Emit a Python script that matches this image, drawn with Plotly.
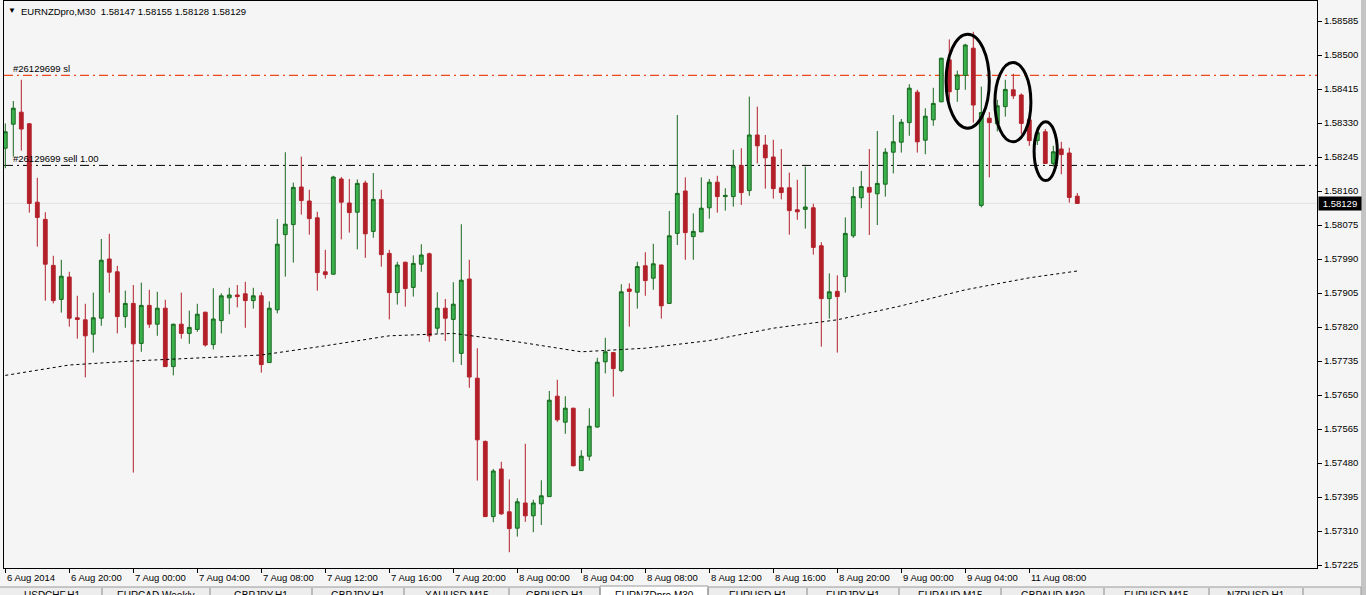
import plotly.graph_objects as go

# ---------------- data ----------------
symbol_title = "EURNZDpro,M30  1.58147 1.58155 1.58128 1.58129"

bar_index = list(range(135))

open_ = [1.58267, 1.58327, 1.58357, 1.58328, 1.58132, 1.58089, 1.57974, 1.57889, 1.57945, 1.57843,
         1.57838, 1.57802, 1.57842, 1.57990, 1.57958, 1.57846, 1.57879, 1.57779, 1.57874, 1.57827,
         1.57867, 1.57721, 1.57827, 1.57804, 1.57814, 1.57857, 1.57776, 1.57836, 1.57893, 1.57900,
         1.57903, 1.57886, 1.57898, 1.57731, 1.57863, 1.58051, 1.58076, 1.58170, 1.58135, 1.58093,
         1.57958, 1.57952, 1.58190, 1.58130, 1.58107, 1.58180, 1.58059, 1.58139, 1.58004, 1.57906,
         1.57982, 1.57919, 1.57977, 1.58003, 1.57817, 1.57867, 1.57839, 1.57754, 1.57940, 1.57692,
         1.57534, 1.57346, 1.57465, 1.57358, 1.57317, 1.57380, 1.57348, 1.57378, 1.57396, 1.57647,
         1.57582, 1.57617, 1.57461, 1.57497, 1.57570, 1.57733, 1.57756, 1.57711, 1.57915, 1.57907,
         1.57973, 1.57942, 1.57975, 1.57879, 1.58054, 1.58160, 1.58046, 1.58058, 1.58118, 1.58182,
         1.58146, 1.58146, 1.58224, 1.58161, 1.58300, 1.58275, 1.58245, 1.58168, 1.58168, 1.58113,
         1.58114, 1.58118, 1.58023, 1.57891, 1.57909, 1.57946, 1.58048, 1.58143, 1.58169, 1.58153,
         1.58177, 1.58257, 1.58282, 1.58331, 1.58407, 1.58287, 1.58338, 1.58383, 1.58488, 1.58414,
         1.58449, 1.58517, 1.58124, 1.58342, 1.58328, 1.58371, 1.58413, 1.58400, 1.58338, 1.58286,
         1.58308, 1.58229, 1.58265, 1.58255, 1.58147]

high = [1.58329, 1.58385, 1.58438, 1.58330, 1.58193, 1.58107, 1.57998, 1.57988, 1.57958, 1.57898,
        1.57878, 1.57906, 1.58040, 1.58053, 1.57973, 1.57911, 1.57925, 1.57931, 1.57913, 1.57908,
        1.57888, 1.57828, 1.57906, 1.57861, 1.57878, 1.57858, 1.57917, 1.57904, 1.57918, 1.57925,
        1.57933, 1.57918, 1.57907, 1.57884, 1.58090, 1.58257, 1.58181, 1.58246, 1.58163, 1.58108,
        1.58013, 1.58198, 1.58195, 1.58190, 1.58189, 1.58186, 1.58205, 1.58163, 1.58013, 1.57983,
        1.57983, 1.57999, 1.58027, 1.58006, 1.57907, 1.57890, 1.57932, 1.58077, 1.57988, 1.57767,
        1.57536, 1.57465, 1.57483, 1.57439, 1.57392, 1.57528, 1.57388, 1.57437, 1.57660, 1.57688,
        1.57647, 1.57618, 1.57512, 1.57617, 1.57743, 1.57793, 1.57758, 1.57927, 1.57929, 1.57983,
        1.58007, 1.58028, 1.57976, 1.58110, 1.58350, 1.58194, 1.58104, 1.58194, 1.58190, 1.58198,
        1.58167, 1.58263, 1.58267, 1.58396, 1.58371, 1.58300, 1.58288, 1.58265, 1.58206, 1.58188,
        1.58221, 1.58128, 1.58032, 1.57954, 1.57949, 1.58094, 1.58170, 1.58210, 1.58265, 1.58310,
        1.58267, 1.58350, 1.58340, 1.58427, 1.58413, 1.58367, 1.58418, 1.58493, 1.58539, 1.58461,
        1.58528, 1.58558, 1.58421, 1.58357, 1.58388, 1.58438, 1.58453, 1.58404, 1.58339, 1.58319,
        1.58315, 1.58273, 1.58283, 1.58268, 1.58155]

low = [1.58217, 1.58246, 1.58261, 1.58106, 1.58021, 1.57886, 1.57879, 1.57856, 1.57821, 1.57791,
       1.57694, 1.57756, 1.57823, 1.57906, 1.57804, 1.57818, 1.57456, 1.57758, 1.57818, 1.57798,
       1.57720, 1.57699, 1.57791, 1.57778, 1.57808, 1.57771, 1.57764, 1.57804, 1.57852, 1.57869,
       1.57818, 1.57866, 1.57706, 1.57730, 1.57854, 1.57946, 1.57981, 1.58101, 1.58051, 1.57911,
       1.57941, 1.57951, 1.58039, 1.58056, 1.58014, 1.57993, 1.58043, 1.57971, 1.57839, 1.57876,
       1.57871, 1.57896, 1.57958, 1.57783, 1.57804, 1.57785, 1.57732, 1.57725, 1.57668, 1.57436,
       1.57345, 1.57332, 1.57350, 1.57257, 1.57296, 1.57333, 1.57307, 1.57325, 1.57395, 1.57583,
       1.57553, 1.57472, 1.57460, 1.57486, 1.57568, 1.57704, 1.57646, 1.57707, 1.57821, 1.57866,
       1.57898, 1.57913, 1.57841, 1.57878, 1.58025, 1.57988, 1.57988, 1.58057, 1.58091, 1.58106,
       1.58111, 1.58121, 1.58125, 1.58148, 1.58229, 1.58166, 1.58141, 1.58139, 1.58051, 1.58088,
       1.58066, 1.58001, 1.57771, 1.57841, 1.57756, 1.57906, 1.58043, 1.58117, 1.58050, 1.58075,
       1.58146, 1.58204, 1.58256, 1.58298, 1.58256, 1.58252, 1.58323, 1.58382, 1.58386, 1.58383,
       1.58413, 1.58331, 1.58119, 1.58194, 1.58309, 1.58346, 1.58390, 1.58303, 1.58273, 1.58275,
       1.58228, 1.58221, 1.58202, 1.58131, 1.58128]

close = [1.58308, 1.58367, 1.58315, 1.58129, 1.58094, 1.57977, 1.57886, 1.57947, 1.57842, 1.57839,
         1.57798, 1.57843, 1.57987, 1.57957, 1.57846, 1.57879, 1.57778, 1.57874, 1.57827, 1.57867,
         1.57721, 1.57827, 1.57804, 1.57819, 1.57852, 1.57775, 1.57840, 1.57898, 1.57900, 1.57896,
         1.57886, 1.57898, 1.57726, 1.57867, 1.58027, 1.58077, 1.58169, 1.58136, 1.58091, 1.57956,
         1.57951, 1.58195, 1.58132, 1.58106, 1.58179, 1.58053, 1.58139, 1.58001, 1.57906, 1.57975,
         1.57916, 1.57979, 1.58000, 1.57798, 1.57867, 1.57842, 1.57877, 1.57937, 1.57695, 1.57538,
         1.57346, 1.57460, 1.57353, 1.57316, 1.57383, 1.57348, 1.57380, 1.57398, 1.57637, 1.57588,
         1.57617, 1.57473, 1.57497, 1.57572, 1.57732, 1.57758, 1.57716, 1.57908, 1.57909, 1.57971,
         1.57936, 1.57978, 1.57873, 1.58048, 1.58154, 1.58056, 1.58059, 1.58117, 1.58182, 1.58146,
         1.58149, 1.58222, 1.58156, 1.58300, 1.58273, 1.58243, 1.58166, 1.58156, 1.58111, 1.58108,
         1.58120, 1.58019, 1.57891, 1.57908, 1.57896, 1.58054, 1.58146, 1.58171, 1.58157, 1.58179,
         1.58257, 1.58283, 1.58332, 1.58417, 1.58283, 1.58347, 1.58379, 1.58492, 1.58408, 1.58450,
         1.58525, 1.58375, 1.58356, 1.58331, 1.58373, 1.58414, 1.58398, 1.58329, 1.58286, 1.58306,
         1.58229, 1.58258, 1.58251, 1.58144, 1.58129]

# moving average (dotted), read at every 8th bar
ma_index = [0, 8, 16, 24, 32, 40, 48, 56, 64, 72, 80, 88, 96, 104, 112, 120, 128, 134]
ma_values = [1.57699, 1.57725, 1.57735, 1.57743, 1.57750, 1.57773, 1.57798, 1.57804, 1.57783,
             1.57758, 1.57767, 1.57786, 1.57817, 1.57838, 1.57873, 1.57913, 1.57943, 1.57960]

# order levels
sl_level = 1.58449
sl_label = "#26129699 sl"
entry_level = 1.58224
entry_label = "#26129699 sell 1.00"
bid_price = 1.58129

# axes
price_ticks = [1.58585, 1.58500, 1.58415, 1.58330, 1.58245, 1.58160, 1.58075, 1.57990, 1.57905,
               1.57820, 1.57735, 1.57650, 1.57565, 1.57480, 1.57395, 1.57310, 1.57225]
time_tick_index = [0, 8, 16, 24, 32, 40, 48, 56, 64, 72, 80, 88, 96, 104, 112, 120, 128]
time_tick_labels = ["6 Aug 2014", "6 Aug 20:00", "7 Aug 00:00", "7 Aug 04:00", "7 Aug 08:00",
                    "7 Aug 12:00", "7 Aug 16:00", "7 Aug 20:00", "8 Aug 00:00", "8 Aug 04:00",
                    "8 Aug 08:00", "8 Aug 12:00", "8 Aug 16:00", "8 Aug 20:00", "9 Aug 00:00",
                    "9 Aug 04:00", "11 Aug 08:00"]

tab_names = ["USDCHF,H1", "EURCAD,Weekly", "GBPJPY,H1", "GBPJPY,H1", "XAUUSD,M15", "GBPUSD,H1",
             "EURNZDpro,M30", "EURUSD,H1", "EURJPY,H1", "EURAUD,M15", "GBPAUD,M30", "EURUSD,M15",
             "NZDUSD,H1"]

# ---------------- layout helpers ----------------
W, H = 1366, 595
PL, PR, PT, PB = 4, 1317, 1, 568          # plot area in pixels
def px_x(px):
    return (px - PL) / (PR - PL)
def px_y(py):
    return (PB - py) / (PB - PT)

FONT = "Liberation Sans, Arial, sans-serif"
BG = "#F5F5F5"

fig = go.Figure()

fig.add_trace(go.Candlestick(
    x=bar_index, open=open_, high=high, low=low, close=close,
    increasing=dict(line=dict(color="#17691F", width=1), fillcolor="#3CB04E"),
    decreasing=dict(line=dict(color="#B3202A", width=1), fillcolor="#B3202A"),
    whiskerwidth=0, hoverinfo="skip", showlegend=False,
))

fig.add_trace(go.Scatter(
    x=ma_index, y=ma_values, mode="lines",
    line=dict(color="black", width=1, dash="dot"),
    hoverinfo="skip", showlegend=False,
))

shapes = []
# bid line
shapes.append(dict(type="line", xref="paper", yref="y", x0=0, x1=1, y0=bid_price, y1=bid_price,
                   line=dict(color="#E2E2E2", width=1), layer="below"))
# stop-loss line
shapes.append(dict(type="line", xref="paper", yref="y", x0=0, x1=1, y0=sl_level, y1=sl_level,
                   line=dict(color="#EA4A1C", width=1.3, dash="9px,4px,2px,4px"), layer="below"))
# entry line
shapes.append(dict(type="line", xref="paper", yref="y", x0=0, x1=1, y0=entry_level, y1=entry_level,
                   line=dict(color="black", width=1, dash="9px,4px,2px,4px"), layer="below"))

# hand-drawn ellipses
for (x0, x1, y0, y1) in [(117.6, 123.0, 1.58317, 1.58552),
                         (123.7, 128.2, 1.58283, 1.58481),
                         (128.6, 131.5, 1.58186, 1.58333)]:
    shapes.append(dict(type="circle", xref="x", yref="y", x0=x0, x1=x1, y0=y0, y1=y1,
                       line=dict(color="black", width=3), layer="above"))

# right grey strip
shapes.append(dict(type="rect", xref="paper", yref="paper", x0=px_x(1361), x1=px_x(1367),
                   y0=px_y(596), y1=px_y(-1), fillcolor="#C4C4C4", line=dict(width=0), layer="above"))
# tab bar
shapes.append(dict(type="rect", xref="paper", yref="paper", x0=px_x(-1), x1=px_x(1361),
                   y0=px_y(596), y1=px_y(587), fillcolor="#EDEDED",
                   line=dict(color="#9A9A9A", width=1), layer="above"))
tab_x = [4, 102, 210, 312, 404, 509, 600, 708, 807, 899, 1001, 1104, 1209, 1303]
# active tab
shapes.append(dict(type="rect", xref="paper", yref="paper", x0=px_x(tab_x[6]), x1=px_x(tab_x[7]),
                   y0=px_y(596), y1=px_y(586), fillcolor="white",
                   line=dict(color="#9A9A9A", width=1), layer="above"))
for sx in tab_x[1:]:
    shapes.append(dict(type="line", xref="paper", yref="paper", x0=px_x(sx), x1=px_x(sx),
                       y0=px_y(595), y1=px_y(588), line=dict(color="#8A8A8A", width=1), layer="above"))

annotations = []
# title
annotations.append(dict(xref="paper", yref="paper", x=px_x(6), y=px_y(10), xanchor="left",
                        yanchor="middle", text="▼", showarrow=False,
                        font=dict(family=FONT, size=8, color="black")))
annotations.append(dict(xref="paper", yref="paper", x=px_x(19), y=px_y(11), xanchor="left",
                        yanchor="middle", text=symbol_title, showarrow=False,
                        font=dict(family=FONT, size=9.5, color="black")))
# order labels
for lvl, lab in [(sl_level, sl_label), (entry_level, entry_label)]:
    annotations.append(dict(xref="paper", yref="y", x=px_x(11), y=lvl, xanchor="left",
                            yanchor="bottom", yshift=-1, text=lab, showarrow=False,
                            font=dict(family=FONT, size=9.5, color="black")))
# time labels
for k, lab in zip(time_tick_index, time_tick_labels):
    annotations.append(dict(xref="x", yref="paper", x=k, y=px_y(577.5), xanchor="left",
                            yanchor="middle", xshift=0, text=lab, showarrow=False,
                            font=dict(family=FONT, size=9.5, color="black")))
# bid price box
annotations.append(dict(xref="paper", yref="y", x=px_x(1318), y=bid_price, xanchor="left",
                        yanchor="middle", text=f"{bid_price:.5f}", showarrow=False,
                        bgcolor="black", width=40, align="center", borderpad=1,
                        font=dict(family=FONT, size=9.5, color="white")))
# tab labels (cut by the window bottom as in the screenshot)
for i, name in enumerate(tab_names):
    cx = (tab_x[i] + tab_x[i + 1]) / 2
    annotations.append(dict(xref="paper", yref="paper", x=px_x(cx), y=px_y(588), xanchor="center",
                            yanchor="top", text=name, showarrow=False,
                            font=dict(family=FONT, size=10, color="black")))

fig.update_layout(
    width=W, height=H,
    margin=dict(l=PL, r=W - PR, t=PT, b=H - PB, pad=0, autoexpand=False),
    paper_bgcolor=BG, plot_bgcolor=BG,
    showlegend=False,
    boxgap=0.32,
    xaxis=dict(range=[(PL - 5.3) / 8, (PR - 5.3) / 8], showgrid=False, zeroline=False,
               showline=True, linecolor="black", linewidth=1, mirror=True,
               ticks="outside", ticklen=4, tickcolor="black", tickvals=time_tick_index,
               showticklabels=False, rangeslider=dict(visible=False), automargin=False,
               fixedrange=True),
    yaxis=dict(side="right", range=[(158637.5 - 2.5 * PB) / 100000, (158637.5 - 2.5 * PT) / 100000],
               showgrid=False, zeroline=False, showline=True, linecolor="black", linewidth=1,
               mirror=True, ticks="outside", ticklen=4, tickcolor="black",
               tickvals=price_ticks, ticktext=[f"{v:.5f}" for v in price_ticks],
               tickfont=dict(family=FONT, size=9.5, color="black"), automargin=False,
               fixedrange=True),
    shapes=shapes,
    annotations=annotations,
)

fig.write_html(
    "out.html",
    config={"displayModeBar": False, "staticPlot": True},
    post_script="document.body.style.margin='0';document.body.style.overflow='hidden';",
)
